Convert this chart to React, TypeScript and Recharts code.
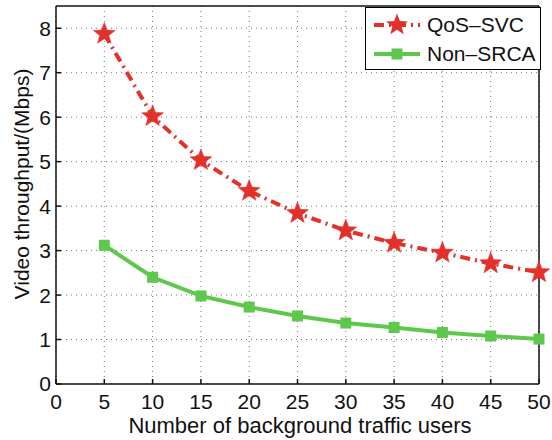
import React from 'react';
import {
  LineChart, Line, XAxis, YAxis, CartesianGrid, ReferenceLine,
} from 'recharts';

// number of background traffic users
const users = [5, 10, 15, 20, 25, 30, 35, 40, 45, 50];
// video throughput (Mbps)
const qosSvc = [7.87, 6.02, 5.03, 4.34, 3.84, 3.45, 3.17, 2.95, 2.71, 2.51];
const nonSrca = [3.12, 2.4, 1.98, 1.73, 1.53, 1.37, 1.27, 1.16, 1.08, 1.01];

const xTicks = [0, 5, 10, 15, 20, 25, 30, 35, 40, 45, 50];
const yTicks = [0, 1, 2, 3, 4, 5, 6, 7, 8];

const RED = '#E2312A';
const GREEN = '#5DC84B';
const FONT = '"Liberation Sans", Arial, Helvetica, sans-serif';

const data = users.map((u, i) => ({ users: u, qos: qosSvc[i], non: nonSrca[i] }));

const starPath = (cx: number, cy: number, r: number) => {
  const pts: string[] = [];
  for (let i = 0; i < 10; i++) {
    const rad = i % 2 === 0 ? r : r * 0.42;
    const a = -Math.PI / 2 + (i * Math.PI) / 5;
    pts.push(`${cx + rad * Math.cos(a)},${cy + rad * Math.sin(a)}`);
  }
  return `M${pts.join('L')}Z`;
};

const StarDot = (props: any) => {
  const { cx, cy } = props;
  if (cx == null || cy == null) return null;
  return <path d={starPath(cx, cy, 11.5)} fill={RED} stroke={RED} strokeWidth={0.5} />;
};

const SquareDot = (props: any) => {
  const { cx, cy } = props;
  if (cx == null || cy == null) return null;
  return <rect x={cx - 5.5} y={cy - 5.5} width={11} height={11} fill={GREEN} />;
};

// legend drawn as a plain box over the plot, like the matlab one
const LegendBox = () => (
  <div
    style={{
      position: 'absolute', left: 365, top: 7,
      width: 176, height: 63, border: '1.3px solid #000', background: '#fff',
      boxSizing: 'border-box', fontFamily: FONT, fontSize: 21, color: '#111',
    }}
  >
    <div style={{ display: 'flex', alignItems: 'center', height: 30, marginTop: 2 }}>
      <svg width={58} height={30}>
        <line x1={8} y1={15} x2={54} y2={15} stroke={RED} strokeWidth={4} strokeDasharray="10 5 2 5" />
        <path d={starPath(31, 15, 11.5)} fill={RED} />
      </svg>
      <span style={{ marginLeft: 3 }}>QoS–SVC</span>
    </div>
    <div style={{ display: 'flex', alignItems: 'center', height: 28 }}>
      <svg width={58} height={28}>
        <line x1={8} y1={14} x2={54} y2={14} stroke={GREEN} strokeWidth={4} />
        <rect x={25.5} y={8.5} width={11} height={11} fill={GREEN} />
      </svg>
      <span style={{ marginLeft: 3 }}>Non–SRCA</span>
    </div>
  </div>
);

const tickStyle = { fill: '#111', fontSize: 21, fontFamily: FONT };

export default function App() {
  return (
    <div style={{ position: 'absolute', left: 0, top: 0, width: 552, height: 440, background: '#fff' }}>
      <LineChart
        width={552}
        height={440}
        data={data}
        margin={{ top: 6, right: 13, bottom: 0, left: 0 }}
      >
        <CartesianGrid stroke="#777" strokeDasharray="1 4" strokeWidth={1} horizontalValues={yTicks} verticalValues={xTicks} />
        <XAxis
          dataKey="users"
          type="number"
          domain={[0, 50]}
          ticks={xTicks}
          interval={0}
          height={56}
          tickSize={-5}
          tickMargin={15}
          tick={tickStyle}
          stroke="#111"
          strokeWidth={1.5}
          label={{
            content: () => (
              <text x={300} y={433} textAnchor="middle" fontSize={22} fontFamily={FONT} fill="#111">
                Number of background traffic users
              </text>
            ),
          }}
        />
        <XAxis xAxisId="top" orientation="top" dataKey="users" type="number" domain={[0, 50]} ticks={xTicks}
          height={0} tickSize={-5} tick={false} stroke="#111" strokeWidth={1.5} />
        <YAxis
          type="number"
          domain={[0, 8.5]}
          ticks={yTicks}
          interval={0}
          width={56}
          tickSize={-5}
          tickMargin={10}
          tick={tickStyle}
          stroke="#111"
          strokeWidth={1.5}
          label={{
            content: () => (
              <text transform="translate(29,184) rotate(-90)" textAnchor="middle" fontSize={21} fontFamily={FONT} fill="#111">
                Video throughput/(Mbps)
              </text>
            ),
          }}
        />
        <YAxis yAxisId="right" orientation="right" type="number" domain={[0, 8.5]} ticks={yTicks}
          width={0} tickSize={-5} tick={false} stroke="#111" strokeWidth={1.5} />
        <ReferenceLine y={8.5} stroke="#111" strokeWidth={1.5} />
        <ReferenceLine x={50} stroke="#111" strokeWidth={1.5} />
        <Line
          dataKey="qos"
          name="QoS–SVC"
          stroke={RED}
          strokeWidth={4}
          strokeDasharray="10 5 2 5"
          dot={<StarDot />}
          activeDot={false}
          isAnimationActive={false}
        />
        <Line
          dataKey="non"
          name="Non–SRCA"
          stroke={GREEN}
          strokeWidth={4}
          dot={<SquareDot />}
          activeDot={false}
          isAnimationActive={false}
        />
      </LineChart>
      <LegendBox />
    </div>
  );
}
